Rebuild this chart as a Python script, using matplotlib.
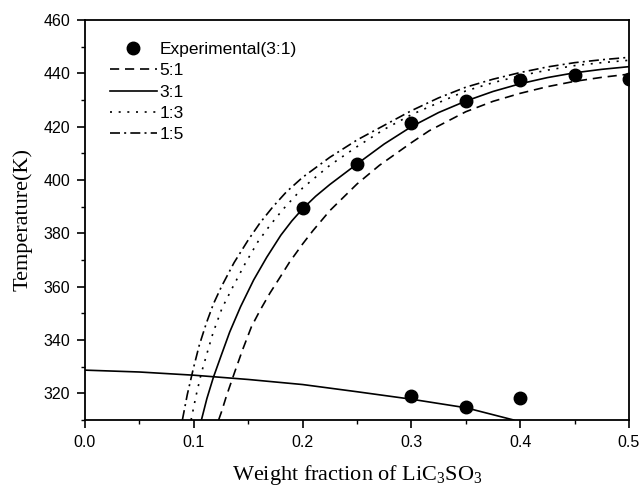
import matplotlib
matplotlib.use("Agg")
import matplotlib.pyplot as plt
from matplotlib.ticker import MultipleLocator

plt.rcParams['mathtext.default'] = 'regular'

# Experimental data (3:1)
exp_x_upper = [0.20, 0.25, 0.30, 0.35, 0.40, 0.45, 0.50]
exp_T_upper = [389.5, 406.0, 421.3, 429.5, 437.6, 439.5, 438.0]
exp_x_lower = [0.30, 0.35, 0.40]
exp_T_lower = [319.0, 314.8, 318.3]

# 3:1 curve (solid)
x_31 = [0.107, 0.112, 0.118, 0.125, 0.133, 0.143, 0.155, 0.167, 0.180, 0.190, 0.200,
        0.212, 0.225, 0.250, 0.275, 0.300, 0.325, 0.350, 0.375, 0.400, 0.425, 0.450, 0.475, 0.500]
T_31 = [310.0, 318.0, 326.0, 334.0, 343.0, 352.5, 362.5, 371.0, 379.3, 384.6, 389.2,
        393.9, 398.3, 406.0, 413.5, 420.0, 425.3, 429.6, 433.2, 436.1, 438.4, 440.2, 441.5, 442.5]

# 5:1 curve (dashed)
x_51 = [0.1228, 0.1254, 0.130, 0.1376, 0.145, 0.153, 0.161, 0.170, 0.180, 0.188, 0.200,
        0.2095, 0.225, 0.250, 0.2706, 0.300, 0.3165, 0.350, 0.375, 0.400, 0.425, 0.450, 0.475, 0.500]
T_51 = [310.0, 313.0, 319.0, 328.0, 336.5, 345.0, 351.2, 357.6, 364.0, 369.2, 376.0,
        381.0, 388.5, 398.5, 405.5, 414.0, 418.5, 425.6, 429.5, 432.5, 435.0, 437.0, 438.5, 439.7]

# 1:3 curve (dotted)
x_13 = [0.0975, 0.102, 0.107, 0.1125, 0.1177, 0.126, 0.136, 0.147, 0.159, 0.170, 0.182,
        0.200, 0.225, 0.250, 0.275, 0.300, 0.325, 0.350, 0.375, 0.400, 0.425, 0.450, 0.475, 0.500]
T_13 = [310.0, 319.0, 327.7, 335.5, 342.7, 352.0, 360.0, 368.5, 376.9, 383.0, 389.0,
        397.0, 405.5, 412.5, 419.0, 424.5, 429.0, 433.4, 436.5, 439.1, 441.2, 442.9, 444.0, 444.9]

# 1:5 curve (dash-dot)
x_15 = [0.0895, 0.0940, 0.0994, 0.105, 0.1116, 0.118, 0.1254, 0.137, 0.150, 0.161, 0.1728,
        0.185, 0.200, 0.225, 0.250, 0.275, 0.300, 0.325, 0.350, 0.375, 0.400, 0.425, 0.450, 0.475, 0.500]
T_15 = [310.0, 319.5, 329.0, 338.0, 346.4, 353.5, 360.0, 369.0, 377.5, 384.0, 390.0,
        395.5, 401.0, 408.5, 415.0, 420.5, 426.0, 430.8, 434.8, 437.8, 440.3, 442.4, 444.0, 445.1, 446.0]

# Lower solid curve
x_low = [0.0, 0.05, 0.10, 0.15, 0.20, 0.25, 0.30, 0.35, 0.394]
T_low = [328.7, 328.0, 326.8, 325.2, 323.3, 320.6, 317.8, 314.6, 310.0]

xticks = [0.0, 0.1, 0.2, 0.3, 0.4, 0.5]
yticks = [320, 340, 360, 380, 400, 420, 440, 460]

fig = plt.figure(figsize=(6.42, 4.90), dpi=100)
ax = fig.add_axes([85/642, 1-420/490, 544/642, 400/490])

lw = 1.2
ax.plot(exp_x_upper, exp_T_upper, 'o', color='black', markersize=9, zorder=5,
        label='Experimental(3:1)')
ax.plot(exp_x_lower, exp_T_lower, 'o', color='black', markersize=9, zorder=5)
ax.plot(x_51, T_51, color='black', lw=lw, dashes=(5.5, 3.5), label='5:1')
ax.plot(x_31, T_31, color='black', lw=lw, linestyle='-', label='3:1')
ax.plot(x_13, T_13, color='black', lw=lw, dashes=(1.2, 4.0), label='1:3')
ax.plot(x_15, T_15, color='black', lw=lw, dashes=(6.0, 2.5, 1.2, 2.5), label='1:5')
ax.plot(x_low, T_low, color='black', lw=lw, linestyle='-')

ax.set_xlim(0.0, 0.5)
ax.set_ylim(310, 460)
ax.set_xticks(xticks)
ax.set_yticks(yticks)
ax.set_xticklabels([f"{v:.1f}" for v in xticks])
ax.set_yticklabels([str(v) for v in yticks])
ax.xaxis.set_minor_locator(MultipleLocator(0.05))
ax.yaxis.set_minor_locator(MultipleLocator(10))

for lab in ax.get_xticklabels() + ax.get_yticklabels():
    lab.set_fontfamily('Liberation Sans')
    lab.set_fontsize(11.5)

ax.tick_params(which='major', direction='out', length=5.5, width=1.2, pad=5)
ax.tick_params(which='minor', direction='out', length=3, width=1.0)
for sp in ax.spines.values():
    sp.set_linewidth(1.3)

ax.set_xlabel(r'Weight fraction of LiC$_3$SO$_3$', family='Liberation Serif', fontsize=16, labelpad=10)
ax.set_ylabel('Temperature(K)', family='Liberation Serif', fontsize=16, labelpad=8)

leg = ax.legend(loc='upper left', bbox_to_anchor=(0.046, 0.945), frameon=False,
                prop={'family': 'Liberation Sans', 'size': 12.5},
                handlelength=2.7, handletextpad=0.15, labelspacing=0.35,
                borderpad=0, borderaxespad=0, numpoints=1)

fig.savefig('out.png', dpi=100)
